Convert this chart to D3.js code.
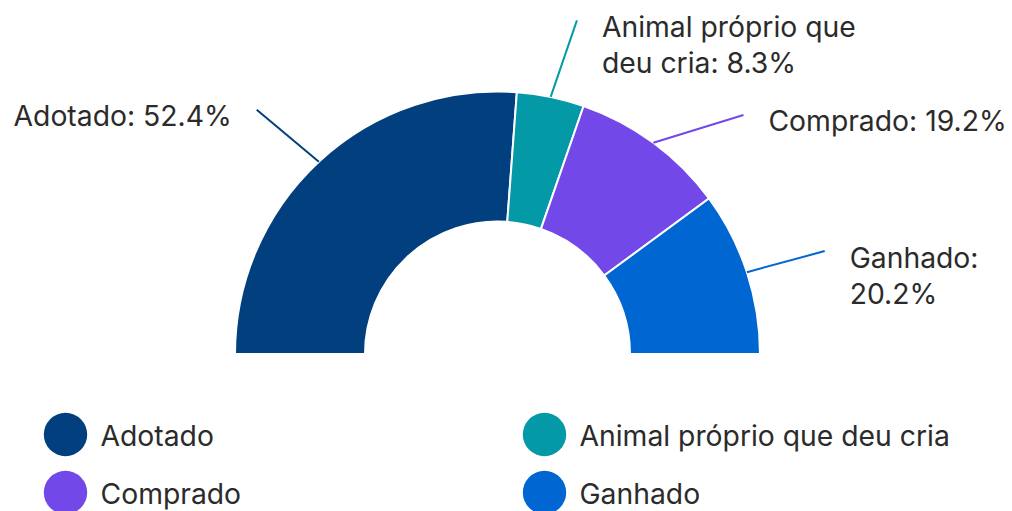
<!DOCTYPE html>
<html>
<head>
<meta charset="utf-8">
<script src="https://cdn.jsdelivr.net/npm/d3@7"></script>
<style>
  body { margin: 0; background: #fff; }
  svg { display: block; font-family: Inter, "Noto Sans", sans-serif; }
</style>
</head>
<body>
<script>
var categories = ["Adotado", "Animal próprio que deu cria", "Comprado", "Ganhado"];
var values = [52.4, 8.3, 19.2, 20.2];
var colors = ["#013f7e", "#0499a6", "#7248e8", "#0066d1"];

var w = 1012, h = 511;
var cx = 497.5, cy = 354;
var outerR = 262.5, innerR = 132.5;
var textColor = "#2b2b2b";
var fontSize = 28.3;

var svg = d3.select("body").append("svg")
    .attr("width", w)
    .attr("height", h);

var pie = d3.pie()
    .sort(null)
    .startAngle(-Math.PI / 2)
    .endAngle(Math.PI / 2);

var arc = d3.arc()
    .innerRadius(innerR)
    .outerRadius(outerR);

var color = d3.scaleOrdinal().domain(categories).range(colors);

var arcs = pie(values);

var g = svg.append("g").attr("transform", "translate(" + cx + "," + cy + ")");

g.selectAll("path.slice")
    .data(arcs)
    .enter()
    .append("path")
    .attr("class", "slice")
    .attr("fill", function (d, i) { return color(categories[i]); })
    .attr("stroke", "#fff")
    .attr("stroke-width", 2)
    .attr("d", arc);

// leader lines + labels
var lineEndR = 343;
var angleShift = [-1.7, 1.7, 9.4, 0.7]; // degrees, to keep labels apart
function polar(r, a) { return [r * Math.sin(a), -r * Math.cos(a)]; }

arcs.forEach(function (d, i) {
    var mid = (d.startAngle + d.endAngle) / 2;
    var p0 = polar(outerR, mid);
    var p1 = polar(lineEndR, mid + angleShift[i] * Math.PI / 180);
    g.append("line")
        .attr("x1", p0[0]).attr("y1", p0[1])
        .attr("x2", p1[0]).attr("y2", p1[1])
        .attr("stroke", color(categories[i]))
        .attr("stroke-width", 2);

    var right = p1[0] > 0;
    var tx = p1[0] + (right ? 25 : -25);
    var label = categories[i] + ": " + values[i].toFixed(1) + "%";
    var maxW = right ? Math.min(280, w - (cx + tx)) : 280;

    var text = g.append("text")
        .attr("x", tx)
        .attr("y", p1[1] + 16.5)
        .attr("text-anchor", right ? "start" : "end")
        .attr("fill", textColor)
        .style("font-size", fontSize + "px");

    // simple word wrap
    var words = label.split(" ");
    var line = [];
    var tspan = text.append("tspan").attr("x", tx);
    words.forEach(function (word) {
        line.push(word);
        tspan.text(line.join(" "));
        if (tspan.node().getComputedTextLength() > maxW && line.length > 1) {
            line.pop();
            tspan.text(line.join(" "));
            line = [word];
            tspan = text.append("tspan")
                .attr("x", tx)
                .attr("dy", 36)
                .text(word);
        }
    });
});

// legend
var legendX = [65.5, 544.5];
var legendY = [434.5, 492.5];
var legend = svg.selectAll("g.legend")
    .data(categories)
    .enter()
    .append("g")
    .attr("class", "legend")
    .attr("transform", function (d, i) {
        return "translate(" + legendX[i % 2] + "," + legendY[Math.floor(i / 2)] + ")";
    });

legend.append("circle")
    .attr("r", 21.7)
    .attr("fill", function (d) { return color(d); });

legend.append("text")
    .attr("x", 35)
    .attr("y", 11.5)
    .attr("fill", textColor)
    .style("font-size", fontSize + "px")
    .text(function (d) { return d; });
</script>
</body>
</html>
